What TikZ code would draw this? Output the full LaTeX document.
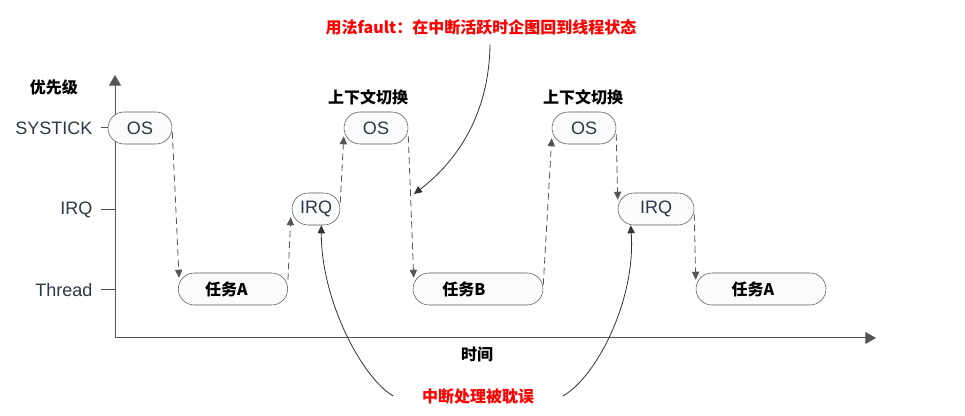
\documentclass[tikz,border=0pt]{standalone}
\usepackage{fontspec}
\setmainfont{Liberation Sans}
\newfontfamily\cjk{Noto Sans CJK SC}
\usetikzlibrary{arrows.meta}
\definecolor{axisgray}{RGB}{85,85,85}
\definecolor{boxfill}{RGB}{250,251,251}
\definecolor{labelink}{RGB}{45,55,70}

\begin{document}
\begin{tikzpicture}[x=0.75pt,y=-0.75pt,
  box/.style={draw=axisgray, fill=boxfill, rounded corners=12pt, minimum height=24pt,
    inner sep=0pt, text=labelink, font=\fontsize{13.5}{16}\selectfont},
  taskbox/.style={box, font=\cjk\bfseries\fontsize{12}{14}\selectfont, text=black},
  ticklabel/.style={anchor=east, text=labelink, font=\fontsize{13.5}{16}\selectfont},
  cjklabel/.style={font=\cjk\bfseries\fontsize{12}{14}\selectfont},
  redlabel/.style={cjklabel, text=red},
  jump/.style={draw=axisgray, dash pattern=on 5pt off 3pt, line width=0.6pt,
    -{Triangle[length=\l, width=\w]}},
  blame/.style={draw=black!80, line width=0.6pt, -{Triangle[length=\l, width=\w]}}]
\def\l{6pt}
\def\w{5.5pt}
\def\al{8pt}
\def\aw{9pt}
\useasboundingbox (0,0) rectangle (965,416);

% axes
\coordinate (o) at (115,338);
\coordinate (ytop) at (115,75);
\coordinate (xend) at (876,338);
\draw [axisgray, line width=0.75pt, -{Triangle[length=\al, width=\aw]}](o) -- (ytop);
\draw [axisgray, line width=0.75pt, -{Triangle[length=\al, width=\aw]}](o) -- (xend);
\node [cjklabel, name=prio] at (54,87) {优先级};
\node [cjklabel, name=time] at (477,354) {时间};

% priority levels
\foreach \lvl/\y/\txt in {sys/128/SYSTICK, irq/210/IRQ, thr/290/Thread}{
  \coordinate (t\lvl) at (101,\y);
  \coordinate (a\lvl) at (115,\y);
  \draw [axisgray, line width=0.75pt](t\lvl) -- (a\lvl);
  \node [ticklabel, name=l\lvl] at (97,\y) {\txt};
}

% run boxes
\node [box, minimum width=48pt, name=os1]      at (140,128) {OS};
\node [taskbox, minimum width=82pt, name=taskA]  at (233,289) {任务A\hspace*{10pt}};
\node [box, minimum width=36pt, name=irq1]     at (316,209) {IRQ};
\node [box, minimum width=48pt, name=os2]      at (376,128) {OS};
\node [taskbox, minimum width=97.5pt, name=taskB] at (478,289) {任务B\hspace*{21pt}};
\node [box, minimum width=48pt, name=os3]      at (584,128) {OS};
\node [box, minimum width=57pt, name=irq2]     at (656,209) {IRQ};
\node [taskbox, minimum width=97.5pt, name=taskC] at (761,289) {任务A\hspace*{12pt}};

\node [cjklabel, name=sw1] at (368,97) {上下文切换};
\node [cjklabel, name=sw2] at (583,97) {上下文切换};

% switches
\draw [jump]([shift={(0,4)}]os1.east) -- ([shift={(1,5)}]taskA.north west);
\draw [jump]([shift={(0,-9)}]taskA.east) -- ([shift={(-1,-8)}]irq1.south west);
\draw [jump]([shift={(0,-6)}]irq1.east) -- ([shift={(0,-8)}]os2.south west);
\draw [jump]([shift={(0,8)}]os2.east) -- ([shift={(1,5)}]taskB.north west);
\draw [jump]([shift={(0,-4)}]taskB.east) -- ([shift={(0,-6)}]os3.south west);
\draw [jump]([shift={(0,6)}]os3.east) -- ([shift={(0,7)}]irq2.north west);
\draw [jump]([shift={(0,5)}]irq2.east) -- ([shift={(0,7)}]taskC.north west);

% notes
\node [redlabel, name=fault] at (481,27) {用法fault：在中断活跃时企图回到线程状态};
\node [redlabel, name=delay] at (478,396) {中断处理被耽误};
\coordinate (hit) at (414,194);
\draw [blame]([shift={(9,5)}]fault.south) .. controls (489,120) and (452,165) .. (hit);
\draw [blame]([xshift=-18]delay.west) .. controls (362,378) and (321,300) .. ([xshift=4]irq1.south);
\draw [blame]([xshift=18]delay.east) .. controls (596,378) and (636,300) .. ([xshift=-19]irq2.south);
\end{tikzpicture}
\end{document}
